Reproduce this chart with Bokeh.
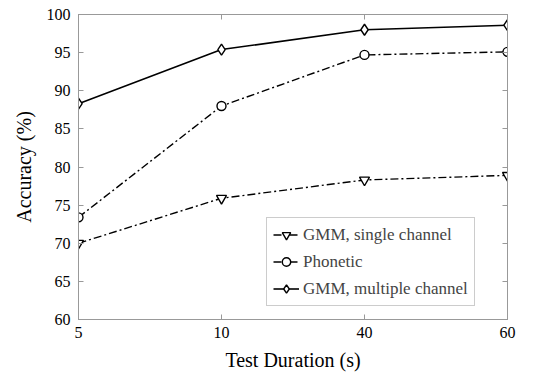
from bokeh.plotting import figure
from bokeh.models import Range1d, FixedTicker, LinearAxis, Legend, LegendItem, CustomJSTickFormatter
from bokeh.embed import file_html
from bokeh.resources import INLINE

durations = ["5", "10", "40", "60"]
gmm_single = [70.0, 75.9, 78.3, 78.9]
phonetic = [73.4, 88.0, 94.7, 95.1]
gmm_multi = [88.3, 95.4, 98.0, 98.6]
y_ticks = [60, 65, 70, 75, 80, 85, 90, 95, 100]

xs = list(range(len(durations)))
FONT = "'Liberation Serif', serif"
GRAY = "#999999"

p = figure(width=546, height=373, output_backend="svg", toolbar_location=None,
           x_range=Range1d(0, len(durations) - 1), y_range=Range1d(60, 100),
           min_border_left=78, min_border_right=39, min_border_top=14, min_border_bottom=54,
           background_fill_color="white", border_fill_color="white")
p.outline_line_color = GRAY
p.grid.visible = False

def style_axis(ax, show_labels=True):
    ax.axis_line_color = GRAY
    ax.major_tick_line_color = GRAY
    ax.major_tick_in = 5
    ax.major_tick_out = 0
    ax.minor_tick_line_color = None
    ax.major_label_text_font = FONT
    ax.major_label_text_font_size = "16px"
    ax.major_label_text_color = "black"
    ax.axis_label_text_font = FONT
    ax.axis_label_text_font_size = "20px"
    ax.axis_label_text_font_style = "normal"
    ax.axis_label_text_color = "black"
    if not show_labels:
        ax.formatter = CustomJSTickFormatter(code="return ''")
        ax.major_label_standoff = 0

xticker = FixedTicker(ticks=xs)
yticker = FixedTicker(ticks=y_ticks)
overrides = {i: d for i, d in enumerate(durations)}

p.xaxis.ticker = xticker
p.xaxis.major_label_overrides = overrides
p.xaxis.axis_label = "Test Duration (s)"
p.xaxis.major_label_standoff = 7
p.xaxis.axis_label_standoff = 8
p.yaxis.ticker = yticker
p.yaxis.axis_label = "Accuracy (%)"
p.yaxis.major_label_standoff = 8
p.yaxis.axis_label_standoff = 9
style_axis(p.xaxis[0])
style_axis(p.yaxis[0])

ax_r = LinearAxis(ticker=yticker)
style_axis(ax_r, False)
p.add_layout(ax_r, "right")
ax_t = LinearAxis(ticker=xticker)
style_axis(ax_t, False)
p.add_layout(ax_t, "above")

dash = "8 3 2 3"
r1l = p.line(xs, gmm_single, line_color="black", line_width=1.4, line_dash=dash)
r1m = p.scatter(xs, gmm_single, marker="inverted_triangle", size=10, fill_color="white",
                line_color="black", line_width=1.4)
r2l = p.line(xs, phonetic, line_color="black", line_width=1.4, line_dash=dash)
r2m = p.scatter(xs, phonetic, marker="circle", size=9, fill_color="white",
                line_color="black", line_width=1.4)
r3l = p.line(xs, gmm_multi, line_color="black", line_width=1.6)
r3m = p.scatter(xs, gmm_multi, marker="diamond", size=11, fill_color="white",
                line_color="black", line_width=1.4)

legend = Legend(items=[
    LegendItem(label="GMM, single channel", renderers=[r1l, r1m]),
    LegendItem(label="Phonetic", renderers=[r2l, r2m]),
    LegendItem(label="GMM, multiple channel", renderers=[r3l, r3m]),
], location=(188, 13))
legend.border_line_color = GRAY
legend.border_line_width = 1
legend.background_fill_alpha = 1
legend.label_text_font = FONT
legend.label_text_font_size = "17px"
legend.glyph_width = 26
legend.glyph_height = 21
legend.spacing = 6
legend.padding = 6
legend.margin = 0
legend.label_standoff = 4
p.add_layout(legend, "center")

open("out.html", "w").write(file_html(p, INLINE))
